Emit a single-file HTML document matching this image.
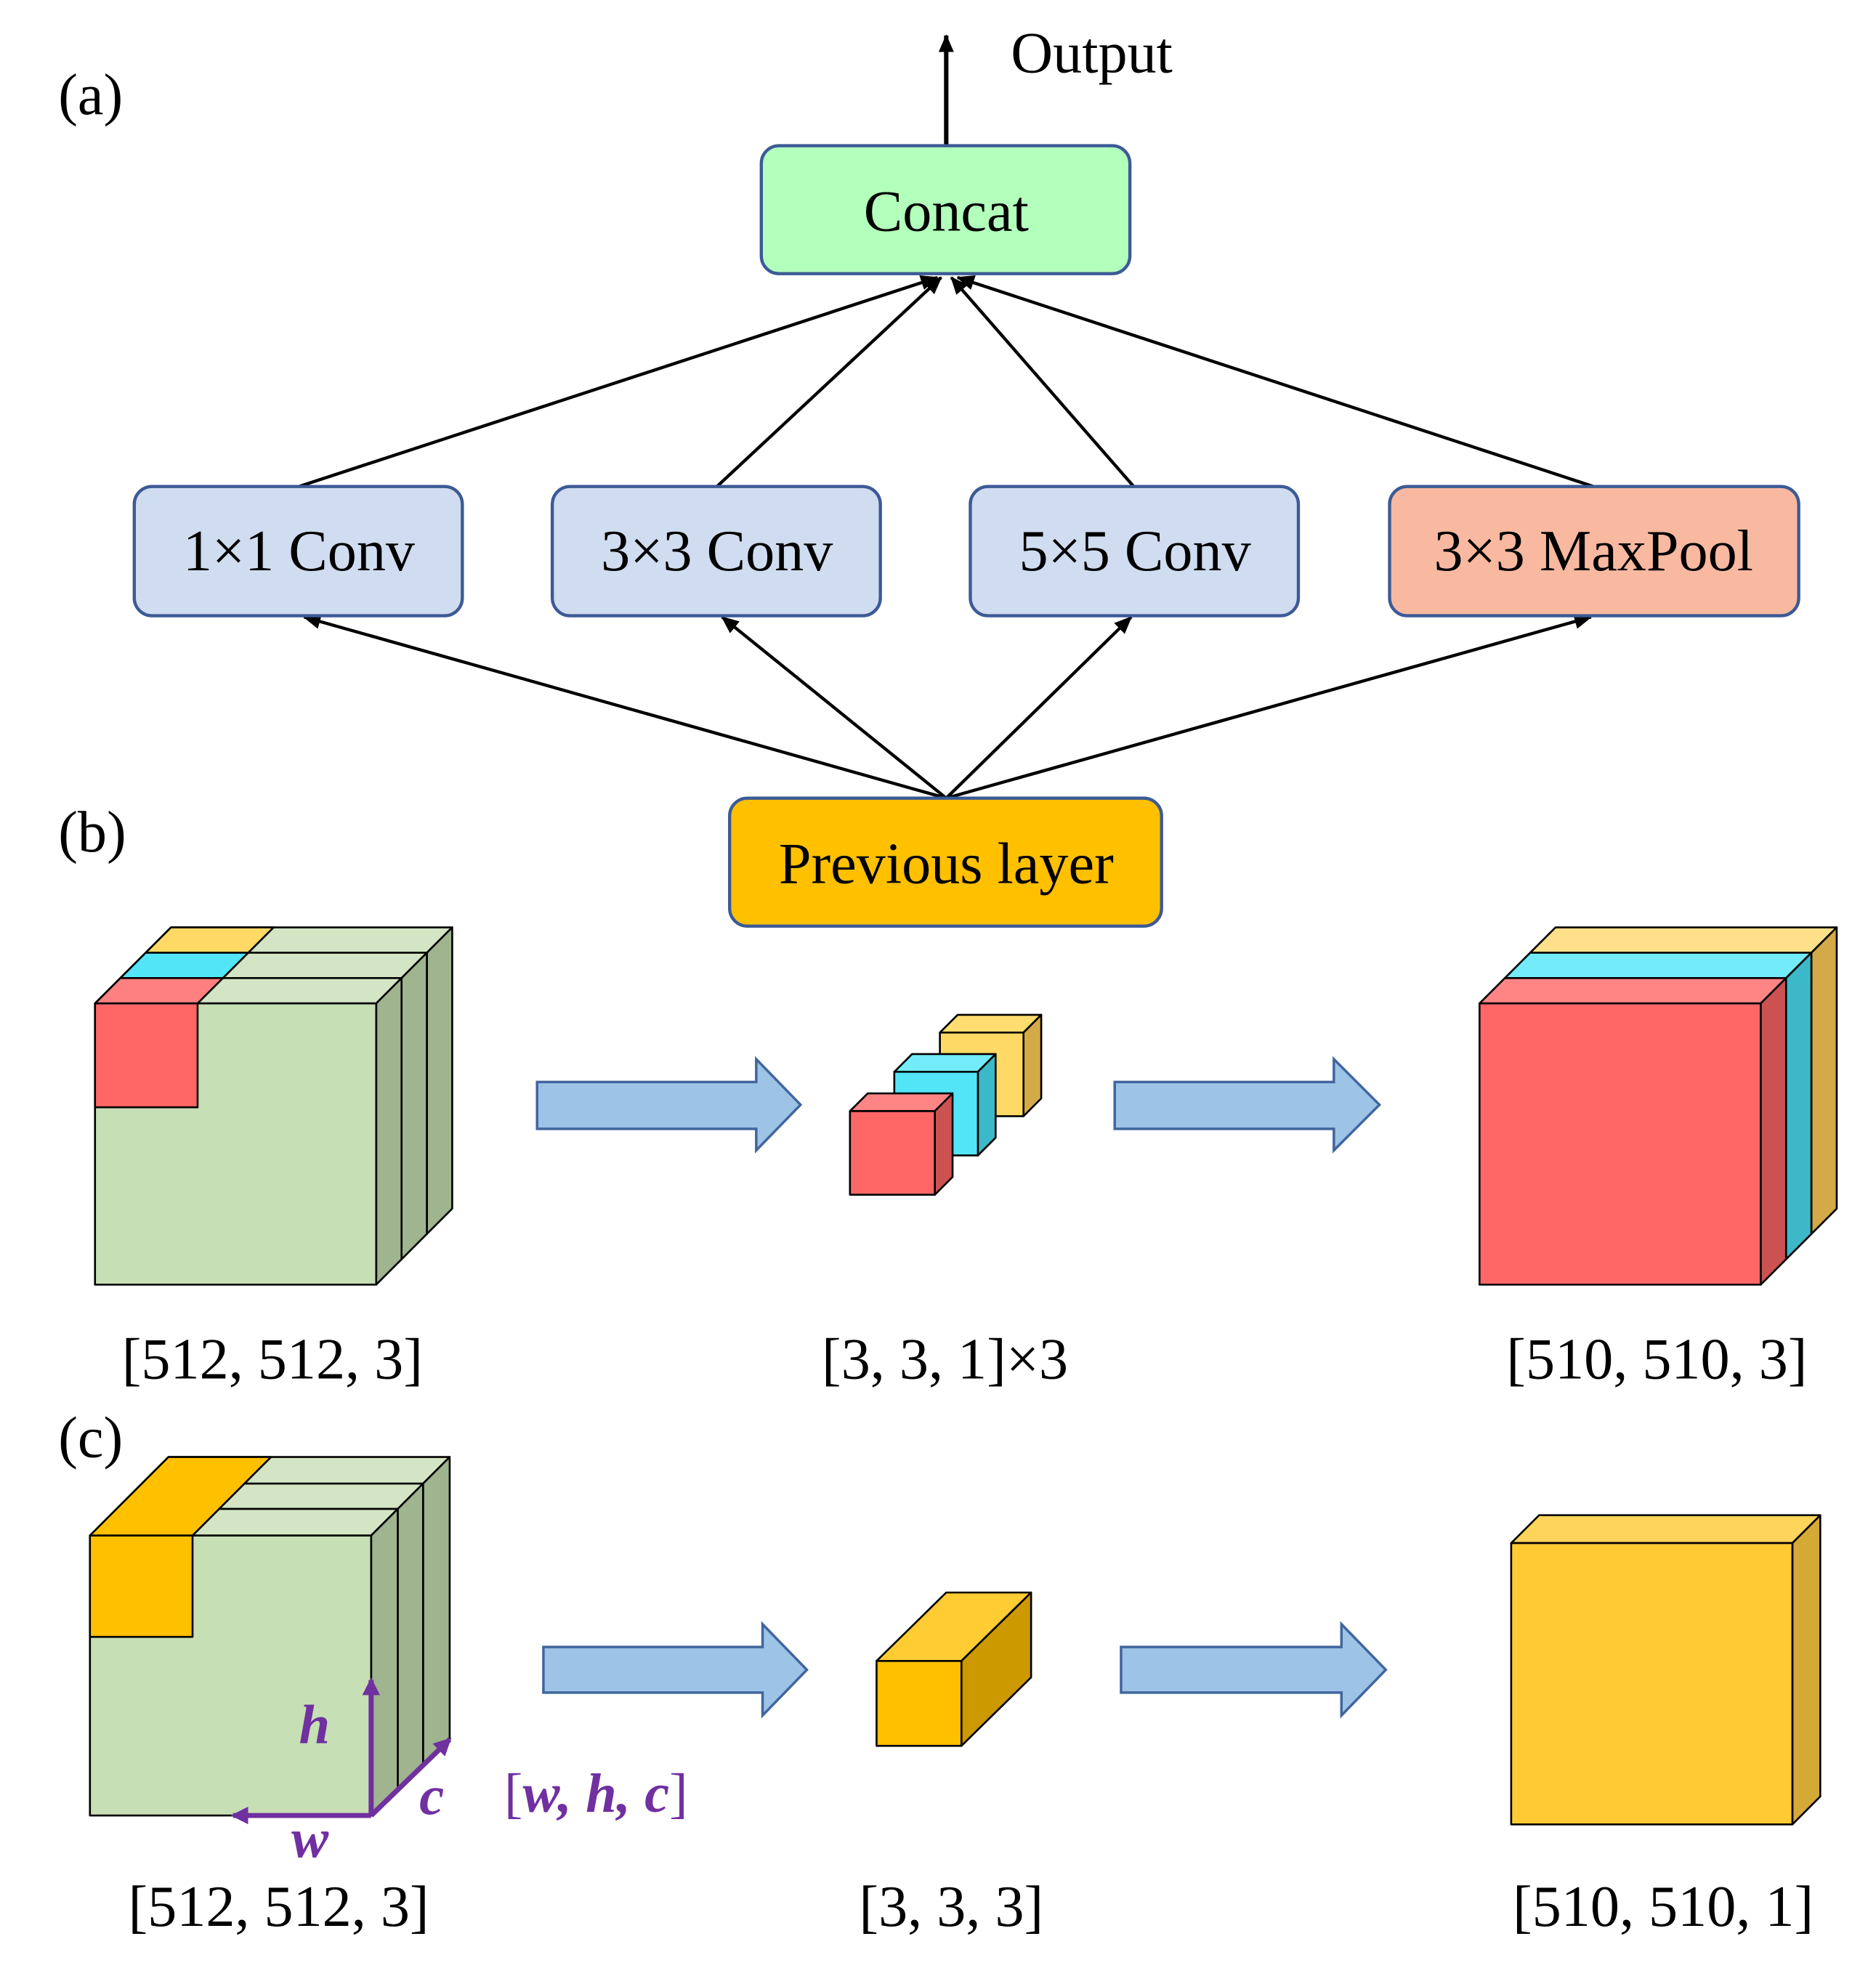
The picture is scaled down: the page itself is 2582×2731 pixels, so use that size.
<!DOCTYPE html>
<html><head><meta charset="utf-8"><style>html,body{margin:0;padding:0;background:#fff}svg{display:block}</style></head>
<body>
<svg width="2582" height="2731" viewBox="0 0 1481 1566" preserveAspectRatio="none" xmlns="http://www.w3.org/2000/svg" font-family="Liberation Serif, serif">
<defs>
<marker id="ah" markerWidth="14" markerHeight="12" refX="13" refY="6" orient="auto" markerUnits="userSpaceOnUse"><path d="M0,0 L14,6 L0,12 Z" fill="#000"/></marker>
<marker id="ap" markerWidth="14" markerHeight="14" refX="12" refY="7" orient="auto" markerUnits="userSpaceOnUse"><path d="M0,0 L14,7 L0,14 Z" fill="#7030a0"/></marker>
</defs>
<rect width="1481" height="1566" fill="#fff"/>
<g font-size="46" fill="#000">
<text x="46" y="90">(a)</text>
<text x="46" y="672">(b)</text>
<text x="46" y="1150">(c)</text>
<text x="798" y="57">Output</text>
</g>
<!-- (a) -->
<line x1="747" y1="114" x2="747" y2="28" stroke="#000" stroke-width="3.5" marker-end="url(#ah)"/>
<g stroke="#000" stroke-width="2.5" marker-end="url(#ah)">
<line x1="236" y1="384" x2="740" y2="219"/>
<line x1="566" y1="384" x2="743" y2="219"/>
<line x1="895" y1="384" x2="751" y2="219"/>
<line x1="1258" y1="384" x2="756" y2="219"/>
<line x1="747" y1="630" x2="240" y2="487"/>
<line x1="747" y1="630" x2="570" y2="487"/>
<line x1="747" y1="630" x2="893" y2="487"/>
<line x1="747" y1="630" x2="1256" y2="487"/>
</g>
<g stroke="#3c5a96" stroke-width="2.5">
<rect x="601" y="115" width="291" height="101" rx="14" fill="#b3ffbc"/>
<rect x="106" y="384" width="259" height="102" rx="14" fill="#d0dcef"/>
<rect x="436" y="384" width="259" height="102" rx="14" fill="#d0dcef"/>
<rect x="766" y="384" width="259" height="102" rx="14" fill="#d0dcef"/>
<rect x="1097" y="384" width="323" height="102" rx="14" fill="#f8b9a0"/>
<rect x="576" y="630" width="341" height="101" rx="14" fill="#ffc000"/>
</g>
<g font-size="46" text-anchor="middle">
<text x="747" y="182">Concat</text>
<text x="236" y="450">1×1 Conv</text>
<text x="566" y="450">3×3 Conv</text>
<text x="896" y="450">5×5 Conv</text>
<text x="1258" y="450">3×3 MaxPool</text>
<text x="747" y="697">Previous layer</text>
</g>
<!-- (b) left cube -->
<g stroke="#000" stroke-width="1.5" stroke-linejoin="round">
<polygon points="115,752 337,752 357,732 135,732" fill="#d3e5c4"/>
<polygon points="337,752 357,732 357,954 337,974" fill="#9fb48f"/>
<polygon points="95,772 317,772 337,752 115,752" fill="#d3e5c4"/>
<polygon points="317,772 337,752 337,974 317,994" fill="#9fb48f"/>
<polygon points="75,792 297,792 317,772 95,772" fill="#d3e5c4"/>
<polygon points="297,792 317,772 317,994 297,1014" fill="#9fb48f"/>
<rect x="75" y="792" width="222" height="222" fill="#c6dfb4"/>
<polygon points="115,752 196,752 216,732 135,732" fill="#ffd966"/>
<polygon points="95,772 176,772 196,752 115,752" fill="#52e5f7"/>
<polygon points="75,792 156,792 176,772 95,772" fill="#ff8080"/>
<rect x="75" y="792" width="81" height="82" fill="#ff6666"/>
</g>
<!-- middle small cubes -->
<g stroke="#000" stroke-width="1.5" stroke-linejoin="round">
<polygon points="742,815 808,815 822,801 756,801" fill="#ffdd70"/>
<polygon points="808,815 822,801 822,867 808,881" fill="#d4aa48"/>
<rect x="742" y="815" width="66" height="66" fill="#ffd966"/>
<polygon points="706,846 772,846 786,832 720,832" fill="#73ebf8"/>
<polygon points="772,846 786,832 786,898 772,912" fill="#3db8c9"/>
<rect x="706" y="846" width="66" height="66" fill="#52e5f7"/>
<polygon points="671,877 738,877 752,863 685,863" fill="#ff8585"/>
<polygon points="738,877 752,863 752,929 738,943" fill="#cc5252"/>
<rect x="671" y="877" width="67" height="66" fill="#ff6666"/>
</g>
<!-- right cube b -->
<g stroke="#000" stroke-width="1.5" stroke-linejoin="round">
<polygon points="1208,752 1430,752 1450,732 1228,732" fill="#ffe08a"/>
<polygon points="1430,752 1450,732 1450,954 1430,974" fill="#d4aa48"/>
<polygon points="1188,772 1410,772 1430,752 1208,752" fill="#73ebf8"/>
<polygon points="1410,772 1430,752 1430,974 1410,994" fill="#3db8c9"/>
<polygon points="1168,792 1390,792 1410,772 1188,772" fill="#ff8585"/>
<polygon points="1390,792 1410,772 1410,994 1390,1014" fill="#cc5252"/>
<rect x="1168" y="792" width="222" height="222" fill="#ff6666"/>
</g>
<!-- block arrows -->
<g fill="#9dc3e6" stroke="#41669e" stroke-width="2">
<polygon points="424,854 597,854 597,836 632,872 597,908 597,891 424,891"/>
<polygon points="880,854 1053,854 1053,836 1089,872 1053,908 1053,891 880,891"/>
<polygon points="429,1300 602,1300 602,1282 637,1318 602,1354 602,1336 429,1336"/>
<polygon points="885,1300 1059,1300 1059,1282 1094,1318 1059,1354 1059,1336 885,1336"/>
</g>
<g font-size="46" text-anchor="middle">
<text x="215" y="1088">[512, 512, 3]</text>
<text x="746" y="1088">[3, 3, 1]×3</text>
<text x="1308" y="1088">[510, 510, 3]</text>
<text x="220" y="1520">[512, 512, 3]</text>
<text x="751" y="1520">[3, 3, 3]</text>
<text x="1313" y="1520">[510, 510, 1]</text>
</g>
<!-- (c) left cube -->
<g stroke="#000" stroke-width="1.5" stroke-linejoin="round">
<polygon points="112,1171 334,1171 355,1150 133,1150" fill="#d3e5c4"/>
<polygon points="334,1171 355,1150 355,1372 334,1392" fill="#9fb48f"/>
<polygon points="92,1191 314,1191 334,1171 112,1171" fill="#d3e5c4"/>
<polygon points="314,1191 334,1171 334,1392 314,1412" fill="#9fb48f"/>
<polygon points="71,1212 293,1212 314,1191 92,1191" fill="#d3e5c4"/>
<polygon points="293,1212 314,1191 314,1412 293,1433" fill="#9fb48f"/>
<rect x="71" y="1212" width="222" height="221" fill="#c6dfb4"/>
<polygon points="71,1212 152,1212 214,1150 133,1150" fill="#ffc000"/>
<rect x="71" y="1212" width="81" height="80" fill="#ffc000"/>
</g>
<g stroke="#7030a0" stroke-width="4" fill="none">
<line x1="293" y1="1433" x2="293" y2="1326" marker-end="url(#ap)"/>
<line x1="293" y1="1433" x2="184" y2="1433" marker-end="url(#ap)"/>
<line x1="293" y1="1433" x2="355" y2="1373" marker-end="url(#ap)"/>
</g>
<g fill="#7030a0" font-size="44" font-style="italic" font-weight="bold">
<text x="236" y="1376">h</text>
<text x="230" y="1466">w</text>
<text x="331" y="1432">c</text>
<text x="398" y="1430"><tspan font-style="normal" font-weight="normal">[</tspan>w, h, c<tspan font-style="normal" font-weight="normal">]</tspan></text>
</g>
<!-- middle orange cube -->
<g stroke="#000" stroke-width="1.5" stroke-linejoin="round">
<polygon points="692,1311 759,1311 814,1257 747,1257" fill="#ffcc33"/>
<polygon points="759,1311 814,1257 814,1324 759,1378" fill="#cc9900"/>
<rect x="692" y="1311" width="67" height="67" fill="#ffc000"/>
</g>
<!-- right cube c -->
<g stroke="#000" stroke-width="1.5" stroke-linejoin="round">
<polygon points="1193,1218 1415,1218 1437,1196 1215,1196" fill="#ffd45a"/>
<polygon points="1415,1218 1437,1196 1437,1418 1415,1440" fill="#d4a935"/>
<rect x="1193" y="1218" width="222" height="222" fill="#ffca33"/>
</g>
</svg>
</body></html>
